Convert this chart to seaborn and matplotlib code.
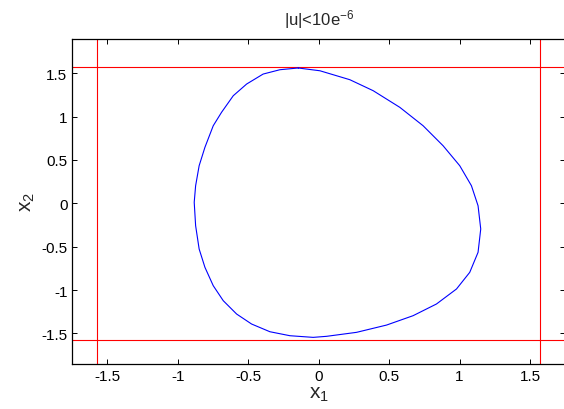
import numpy as np
import pandas as pd
import matplotlib
matplotlib.use("Agg")
import matplotlib.pyplot as plt
import seaborn as sns

# closed trajectory (counter-clockwise from the top)
curve_x = [-0.145, -0.275, -0.394, -0.511, -0.606, -0.689, -0.748, -0.807, -0.848, -0.873,
           -0.883, -0.873, -0.848, -0.807, -0.748, -0.677, -0.582, -0.476, -0.346, -0.204,
           -0.039, 0.056, 0.269, 0.482, 0.670, 0.836, 0.978, 1.072, 1.131, 1.150,
           1.131, 1.084, 1.001, 0.883, 0.741, 0.576, 0.387, 0.221, 0.009, -0.145]
curve_y = [1.561, 1.541, 1.491, 1.376, 1.241, 1.050, 0.895, 0.646, 0.434, 0.203,
           0.012, -0.258, -0.527, -0.738, -0.950, -1.123, -1.277, -1.392, -1.481, -1.527,
           -1.546, -1.534, -1.488, -1.404, -1.296, -1.161, -0.988, -0.796, -0.565, -0.296,
           -0.028, 0.203, 0.434, 0.664, 0.895, 1.107, 1.299, 1.426, 1.529, 1.561]

# state constraints |x1|, |x2| <= pi/2
x_bounds = [-np.pi / 2, np.pi / 2]
y_bounds = [-np.pi / 2, np.pi / 2]

x_ticks = [-1.5, -1, -0.5, 0, 0.5, 1, 1.5]
y_ticks = [-1.5, -1, -0.5, 0, 0.5, 1, 1.5]

df = pd.DataFrame({"x1": curve_x, "x2": curve_y})

sns.set_theme(style="ticks")
plt.rcParams["font.family"] = ["Liberation Sans", "DejaVu Sans"]
plt.rcParams["mathtext.default"] = "regular"

fig = plt.figure(figsize=(5.64, 4.10), dpi=100)
ax = fig.add_axes([0.1282, 0.1098, 0.8736, 0.7934])

for xb in x_bounds:
    ax.axvline(xb, color="red", lw=0.8)
for yb in y_bounds:
    ax.axhline(yb, color="red", lw=0.8)

sns.lineplot(data=df, x="x1", y="x2", sort=False, estimator=None,
             color="blue", lw=0.8, ax=ax)

ax.set_xlim(-1.748, 1.748)
ax.set_ylim(-1.853, 1.899)
ax.set_xticks(x_ticks)
ax.set_yticks(y_ticks)
ax.set_xticklabels([f"{t:g}" for t in x_ticks])
ax.set_yticklabels([f"{t:g}" for t in y_ticks])
ax.tick_params(direction="in", length=3.5, width=0.7, labelsize=11,
               top=True, right=True, colors="black")
for s in ax.spines.values():
    s.set_visible(True)
    s.set_linewidth(0.9)
    s.set_color("black")

ax.set_xlabel("x$_1$", fontsize=15, labelpad=1)
ax.set_ylabel("x$_2$", fontsize=15, labelpad=3)
ax.set_title("|u|<10e$^{-6}$", fontsize=12, pad=10)

fig.savefig("out.png", dpi=100)
